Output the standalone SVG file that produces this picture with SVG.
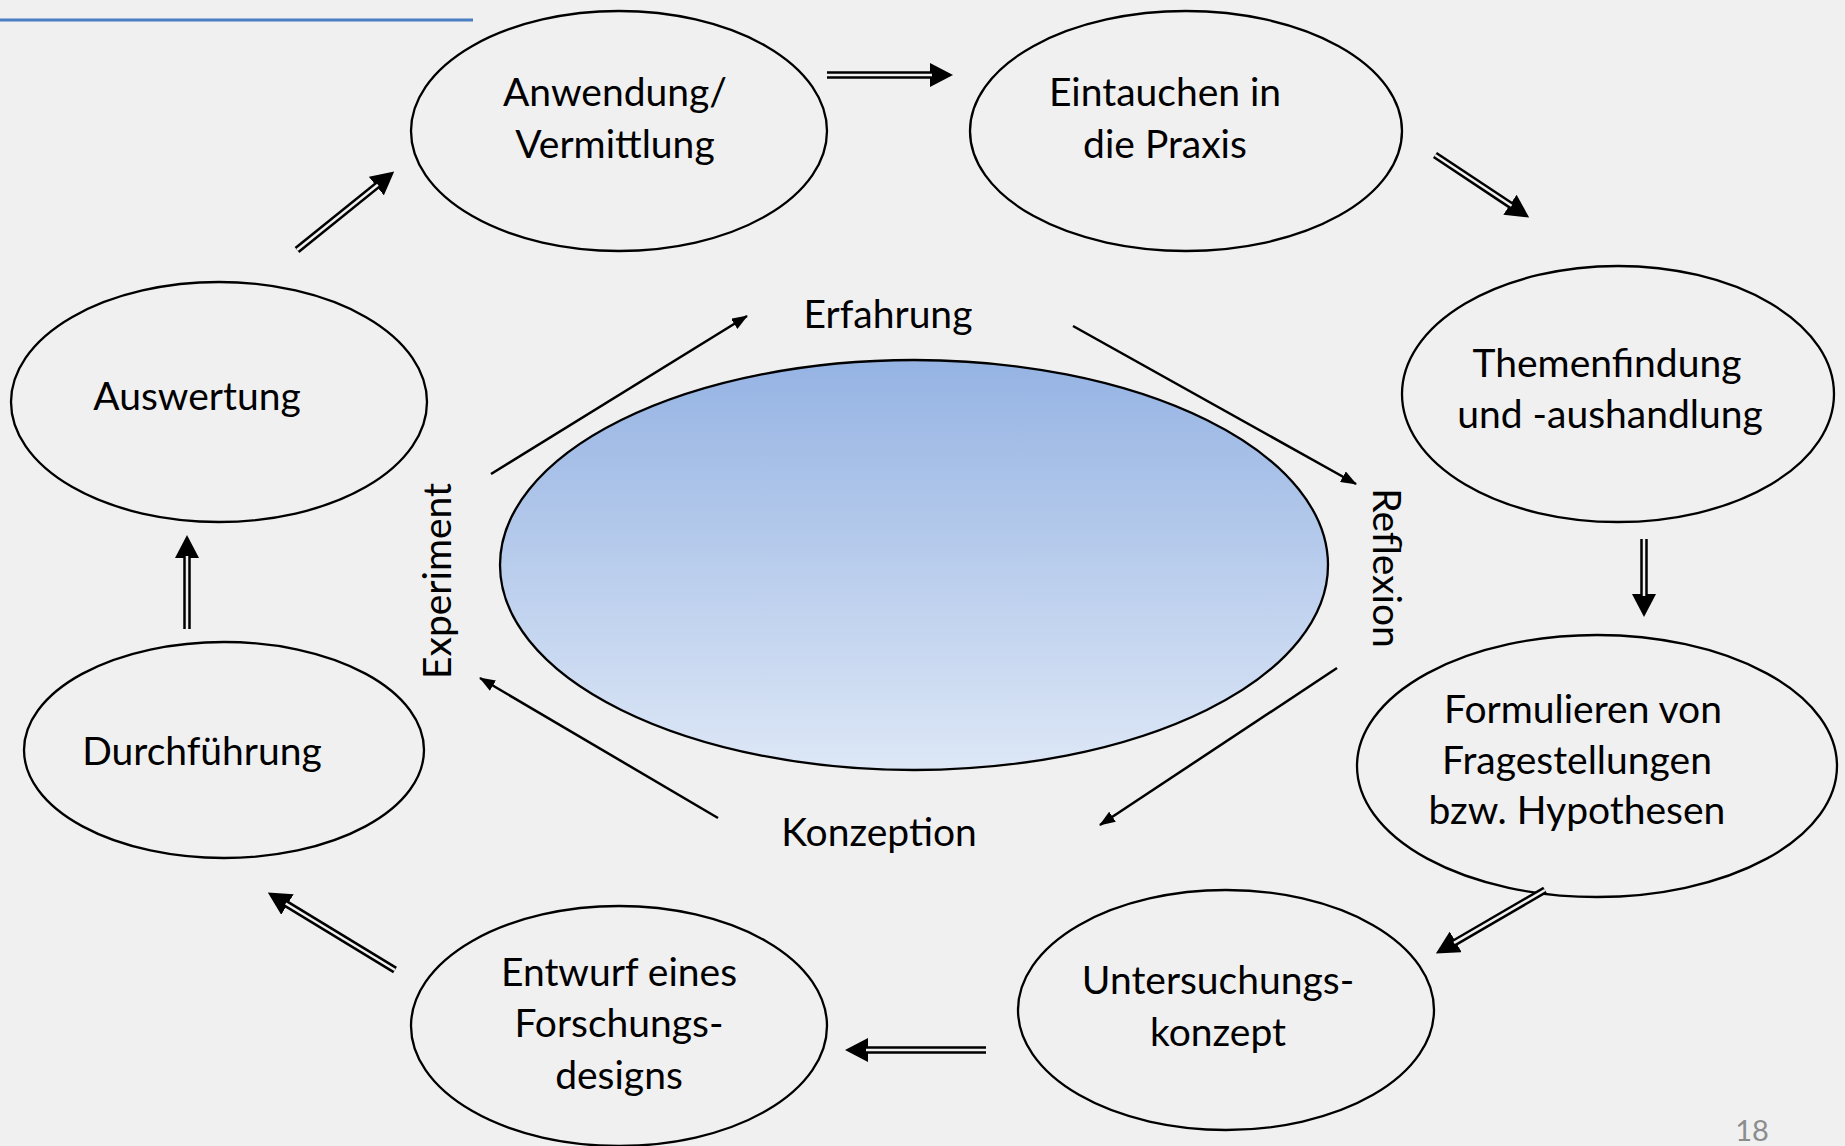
<svg xmlns="http://www.w3.org/2000/svg" width="1845" height="1146" viewBox="0 0 1845 1146">
<defs>
<linearGradient id="blueGrad" x1="0" y1="0" x2="0" y2="1">
<stop offset="0" stop-color="#95b3e3"/>
<stop offset="1" stop-color="#dde7f6"/>
</linearGradient>
<marker id="bigHead" markerUnits="userSpaceOnUse" viewBox="0 0 23 24" refX="1" refY="12" markerWidth="23" markerHeight="24" orient="auto">
<path d="M0,0 L23,12 L0,24 Z" fill="#000"/>
</marker>
<marker id="smallHead" markerUnits="userSpaceOnUse" viewBox="0 0 16 12" refX="15" refY="6" markerWidth="16" markerHeight="12" orient="auto">
<path d="M0,0 L16,6 L0,12 Z" fill="#000"/>
</marker>
</defs>
<style>
.node { fill: none; stroke: #000; stroke-width: 2.3; }
.lbl { font-family: Lato, "Liberation Sans", sans-serif; font-size: 39px; fill: #000; text-anchor: middle; }
.outer { fill: none; stroke: #000; stroke-width: 7.5; marker-end: url(#bigHead); }
.inner { fill: none; stroke: #f0f0f0; stroke-width: 2.5; }
.thin { fill: none; stroke: #000; stroke-width: 2.5; marker-end: url(#smallHead); }
</style>
<rect x="0" y="0" width="1845" height="1146" fill="#f0f0f0"/>
<line x1="0" y1="20" x2="473" y2="20" stroke="#4a7ec2" stroke-width="3"/>

<g id="center">
<ellipse cx="914" cy="565" rx="414" ry="205" fill="url(#blueGrad)" stroke="#000" stroke-width="2.3"/>
</g>

<g id="anwendung">
<ellipse class="node" cx="619" cy="131" rx="208" ry="120"/>
<text class="lbl" x="615" y="106">Anwendung/</text>
<text class="lbl" x="615" y="158">Vermittlung</text>
</g>
<g id="eintauchen">
<ellipse class="node" cx="1186" cy="131" rx="216" ry="120"/>
<text class="lbl" x="1165" y="106">Eintauchen in</text>
<text class="lbl" x="1165" y="158">die Praxis</text>
</g>
<g id="themenfindung">
<ellipse class="node" cx="1618" cy="394" rx="216" ry="128"/>
<text class="lbl" x="1607" y="377">Themenfindung</text>
<text class="lbl" x="1610" y="428">und -aushandlung</text>
</g>
<g id="formulieren">
<ellipse class="node" cx="1597" cy="766" rx="240" ry="131"/>
<text class="lbl" x="1583" y="723">Formulieren von</text>
<text class="lbl" x="1577" y="774">Fragestellungen</text>
<text class="lbl" x="1577" y="824">bzw. Hypothesen</text>
</g>
<g id="untersuchungskonzept">
<ellipse class="node" cx="1226" cy="1010" rx="208" ry="120"/>
<text class="lbl" x="1218" y="994">Untersuchungs-</text>
<text class="lbl" x="1218" y="1046">konzept</text>
</g>
<g id="entwurf">
<ellipse class="node" cx="619" cy="1026" rx="208" ry="120"/>
<text class="lbl" x="619" y="986">Entwurf eines</text>
<text class="lbl" x="619" y="1037">Forschungs-</text>
<text class="lbl" x="619" y="1089">designs</text>
</g>
<g id="durchfuehrung">
<ellipse class="node" cx="224" cy="750" rx="200" ry="108"/>
<text class="lbl" x="202" y="765">Durchführung</text>
</g>
<g id="auswertung">
<ellipse class="node" cx="219" cy="402" rx="208" ry="120"/>
<text class="lbl" x="197" y="410">Auswertung</text>
</g>

<g id="cycle-labels">
<text class="lbl" x="888" y="328">Erfahrung</text>
<text class="lbl" x="879" y="846">Konzeption</text>
<text class="lbl" transform="translate(451,581) rotate(-90)" x="0" y="0">Experiment</text>
<text class="lbl" transform="translate(1373,568) rotate(90)" x="0" y="0">Reflexion</text>
</g>

<g id="connectors">
<path class="outer" d="M827,75 L931,75"/><path class="inner" d="M827,75 L932,75"/>
<path class="outer" d="M1435,155 L1510.8,205.3"/><path class="inner" d="M1435,155 L1511.6,205.8"/>
<path class="outer" d="M1644,539 L1644,595"/><path class="inner" d="M1644,539 L1644,596"/>
<path class="outer" d="M1545,890 L1454.9,942.4"/><path class="inner" d="M1545,890 L1454,942.9"/>
<path class="outer" d="M986,1050 L867,1050"/><path class="inner" d="M986,1050 L866,1050"/>
<path class="outer" d="M395,970 L286.6,904"/><path class="inner" d="M395,970 L285.7,903.5"/>
<path class="outer" d="M187,629 L187,557"/><path class="inner" d="M187,629 L187,556"/>
<path class="outer" d="M297,250 L377.1,185.4"/><path class="inner" d="M297,250 L377.9,184.8"/>

<path class="thin" d="M491,474 L747,316"/>
<path class="thin" d="M1073,326 L1356,484"/>
<path class="thin" d="M1337,668 L1100,825"/>
<path class="thin" d="M718,818 L480,678"/>
</g>

<text x="1752" y="1141" font-family="Lato, 'Liberation Sans', sans-serif" font-size="29" fill="#8c8c8c" text-anchor="middle">18</text>
</svg>
